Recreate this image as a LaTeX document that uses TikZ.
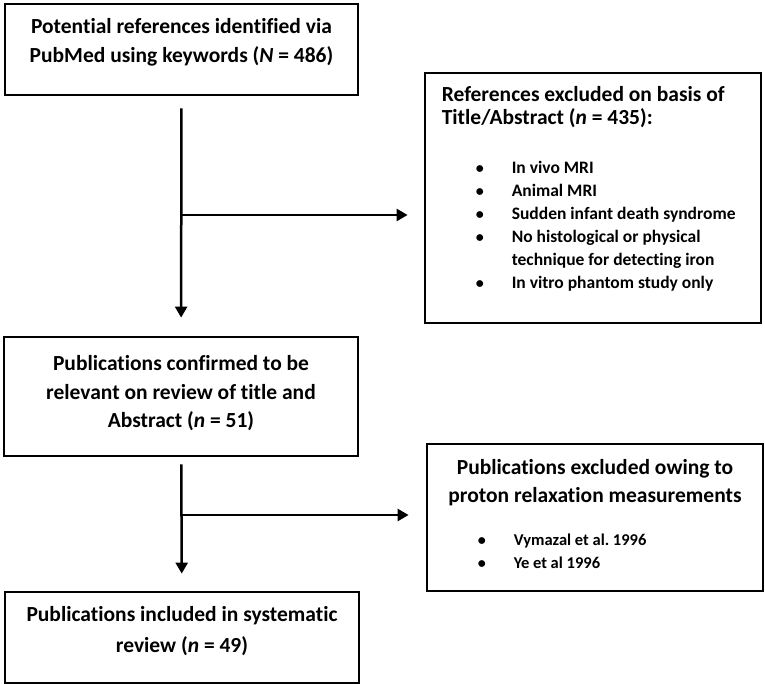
\documentclass[tikz,border=0pt]{standalone}
\usepackage{fontspec}
\setmainfont{Carlito}[Ligatures=NoCommon]
\usetikzlibrary{arrows.meta, positioning}
\newcommand{\bul}{\makebox[28pt]{\fontsize{16}{16}\selectfont\textbullet}\hspace{18pt}}
\newcommand{\nobul}{\makebox[46pt]{}}
\frenchspacing

\begin{document}
\begin{tikzpicture}[x=1pt, y=-1pt,
    box/.style={draw, rectangle, line width=2.8pt, inner sep=0pt},
    boxtext/.style={inner sep=0pt, align=center, font=\bfseries\fontsize{21.5}{28.5}\selectfont},
    titletext/.style={inner sep=0pt, align=left, font=\bfseries\fontsize{21.5}{23.3}\selectfont},
    listtext/.style={inner sep=0pt, align=left, font=\bfseries\fontsize{17.5}{23}\selectfont},
    flow/.style={-{Triangle[length=11pt, width=12pt]}, line width=2.5pt}]
    \useasboundingbox (0,0) rectangle (765,684);

    % left column
    \node[box, minimum width=353pt, minimum height=91pt]
      (pubmed) at (181.5,49.5) {};
    \node[boxtext, below=11pt of pubmed.north]
      (pubmedtext) {\strut Potential references identified via\\PubMed using keywords (\textit{N} = 486)};
    \node[box, minimum width=354pt, minimum height=119pt]
      (relevant) at (181,396.5) {};
    \node[boxtext, below=15pt of relevant.north]
      (relevanttext) {\strut Publications confirmed to be\\relevant on review of title and\\Abstract (\textit{n} = 51)};
    \node[box, minimum width=354pt, minimum height=91pt]
      (included) at (182,637.5) {};
    \node[boxtext, below=8.5pt of included.north, font=\bfseries\fontsize{21.5}{31}\selectfont]
      (includedtext) {\strut Publications included in systematic\\review (\textit{n} = 49)};

    % right column
    \node[box, minimum width=336pt, minimum height=250pt]
      (excluded) at (593,198) {};
    \node[titletext, below right=13pt and 18pt of excluded.north west]
      (excludedtitle) {\strut References excluded on basis of\\Title/Abstract (\textit{n} = 435):};
    \node[listtext, below right=86pt and 42pt of excluded.north west]
      (excludedlist) {\strut\bul In vivo MRI\\
        \bul Animal MRI\\
        \bul Sudden infant death syndrome\\
        \bul No histological or physical\\
        \nobul technique for detecting iron\\
        \bul In vitro phantom study only};
    \node[box, minimum width=336pt, minimum height=147pt]
      (proton) at (595,517.5) {};
    \node[boxtext, below=12pt of proton.north, font=\bfseries\fontsize{21.5}{28}\selectfont]
      (protontitle) {\strut Publications excluded owing to\\proton relaxation measurements};
    \node[listtext, below right=87pt and 42pt of proton.north west, font=\bfseries\fontsize{16.5}{23}\selectfont]
      (protonlist) {\strut\bul Vymazal et al. 1996\\
        \bul Ye et al 1996};

    % connectors
    \coordinate (split1) at (180,215);
    \coordinate (split2) at (181,515);
    \draw[flow, shorten <=12pt, shorten >=18pt] (pubmed) -- (relevant);
    \draw[flow, shorten >=16pt] (split1) -- (split1 -| excluded.west);
    \draw[flow, shorten <=7pt, shorten >=17pt] (relevant) -- (included);
    \draw[flow, shorten >=17pt] (split2) -- (split2 -| proton.west);
  \end{tikzpicture}
\end{document}
